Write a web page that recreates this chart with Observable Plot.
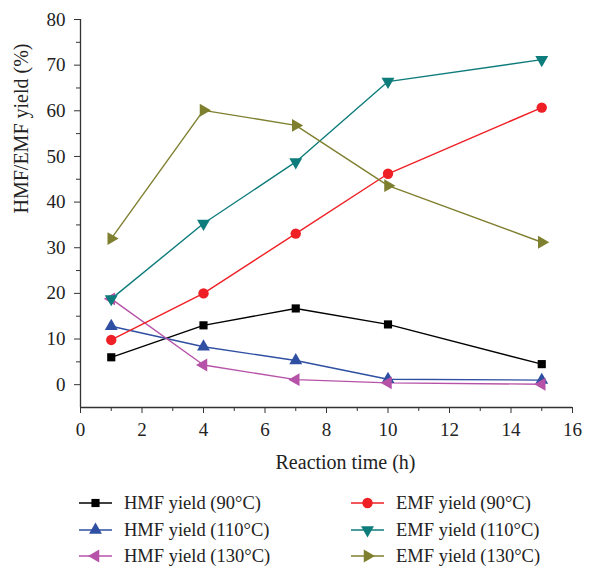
<!DOCTYPE html>
<html>
<head>
<meta charset="utf-8">
<script src="https://cdn.jsdelivr.net/npm/d3@7"></script>
<script src="https://cdn.jsdelivr.net/npm/@observablehq/plot@0.6"></script>
<style>
  html, body { margin: 0; padding: 0; background: #fff; overflow: hidden; }
  #chart { width: 614px; font-family: 'Liberation Serif', 'DejaVu Serif', serif; }
  #legend { position: relative; width: 614px; height: 87px; font-family: 'Liberation Serif', serif; font-size: 18.5px; line-height: 1; color: #222; }
  .item { position: absolute; display: flex; align-items: center; height: 22px; }
  .item svg { margin-right: 12px; }
</style>
</head>
<body>
<div id="chart"></div>
<div id="legend"></div>
<script>
// ---- data ----
const times = [1, 4, 7, 10, 15];
const seriesNames = [
  "HMF yield (90°C)", "HMF yield (110°C)", "HMF yield (130°C)",
  "EMF yield (90°C)", "EMF yield (110°C)", "EMF yield (130°C)"
];
const hmf90  = [6.0, 13.0, 16.7, 13.2, 4.5];
const hmf110 = [12.8, 8.3, 5.3, 1.2, 1.0];
const hmf130 = [18.8, 4.3, 1.1, 0.4, 0.1];
const emf90  = [9.8, 20.0, 33.1, 46.2, 60.7];
const emf110 = [18.8, 35.3, 48.8, 66.4, 71.2];
const emf130 = [32.0, 60.1, 56.8, 43.6, 31.2];
const seriesValues = [hmf90, hmf110, hmf130, emf90, emf110, emf130];
const seriesColors = ["#000000", "#2f4fa2", "#b653a8", "#ee2025", "#0e7c7b", "#7f7f30"];
const xTicks = [0, 2, 4, 6, 8, 10, 12, 14, 16];
const yTicks = [0, 10, 20, 30, 40, 50, 60, 70, 80];
const xLabel = "Reaction time (h)";
const yLabel = "HMF/EMF yield (%)";

// ---- custom triangle symbols ----
const S3 = Math.sqrt(3);
function tri(pts) {
  return { draw(ctx, size) {
    const h = Math.sqrt(size / (3 * S3));
    const p = pts(h);
    ctx.moveTo(p[0][0], p[0][1]);
    ctx.lineTo(p[1][0], p[1][1]);
    ctx.lineTo(p[2][0], p[2][1]);
    ctx.closePath();
  }};
}
const triUp    = tri(h => [[0, -2*h], [-S3*h, h], [S3*h, h]]);
const triDown  = tri(h => [[0, 2*h], [-S3*h, -h], [S3*h, -h]]);
const triLeft  = tri(h => [[-2*h, 0], [h, -S3*h], [h, S3*h]]);
const triRight = tri(h => [[2*h, 0], [-h, -S3*h], [-h, S3*h]]);
const seriesSymbols = ["square", triUp, triLeft, "circle", triDown, triRight];
const seriesR = [4.6, 4.8, 4.8, 5.2, 4.8, 4.8];

const rows = [];
seriesValues.forEach((vals, i) => vals.forEach((v, j) => rows.push({series: i, t: times[j], y: v})));

const marks = [
  Plot.ruleX([0], {y1: -5, y2: 80, stroke: "#333", strokeWidth: 1.3}),
  Plot.ruleY([-5], {x1: 0, x2: 16, stroke: "#333", strokeWidth: 1.3}),
  Plot.axisX({ticks: xTicks, tickSize: 6, tickPadding: 9, fontSize: 19, stroke: "#333", color: "#222", label: null}),
  Plot.axisX({ticks: d3.range(1, 16, 2), tickSize: 4, text: null, label: null, stroke: "#333"}),
  Plot.axisY({ticks: yTicks, tickSize: 6, tickPadding: 9, fontSize: 19, stroke: "#333", color: "#222", label: null}),
  Plot.axisY({ticks: d3.range(5, 80, 10), tickSize: 4, text: null, label: null, stroke: "#333"}),
  Plot.text([xLabel], {frameAnchor: "bottom", dy: 61, dx: 19, fontSize: 20, fill: "#222"}),
  Plot.text([yLabel], {frameAnchor: "left", dx: -59, rotate: -90, fontSize: 20, fill: "#222"})
];
seriesValues.forEach((vals, i) => {
  const d = rows.filter(r => r.series === i);
  marks.push(Plot.line(d, {x: "t", y: "y", stroke: seriesColors[i], strokeWidth: 1.4}));
});
seriesValues.forEach((vals, i) => {
  const d = rows.filter(r => r.series === i);
  marks.push(Plot.dot(d, {x: "t", y: "y", fill: seriesColors[i], stroke: "none", symbol: seriesSymbols[i], r: seriesR[i]}));
});

const chart = Plot.plot({
  width: 614,
  height: 480,
  marginLeft: 80,
  marginRight: 42,
  marginTop: 19,
  marginBottom: 73,
  style: {fontFamily: "'Liberation Serif', serif", fontSize: "19px", color: "#222", background: "#fff", overflow: "visible"},
  x: {domain: [0, 16]},
  y: {domain: [-5, 80]},
  marks
});
document.getElementById("chart").append(chart);

// ---- legend ----
const legend = d3.select("#legend");
const pos = [[79, 23], [79, 50], [79, 76], [351, 23], [351, 50], [351, 76]];
seriesNames.forEach((name, i) => {
  const item = legend.append("div").attr("class", "item")
    .style("left", pos[i][0] + "px").style("top", (pos[i][1] - 11) + "px");
  const svg = item.append("svg").attr("width", 33).attr("height", 16);
  svg.append("line").attr("x1", 0).attr("x2", 33).attr("y1", 8).attr("y2", 8)
    .attr("stroke", seriesColors[i]).attr("stroke-width", 1.4);
  const sym = typeof seriesSymbols[i] === "string"
    ? (seriesSymbols[i] === "square" ? d3.symbolSquare : d3.symbolCircle) : seriesSymbols[i];
  svg.append("path").attr("transform", "translate(16.5,8)")
    .attr("d", d3.symbol(sym, Math.PI * seriesR[i] * seriesR[i])())
    .attr("fill", seriesColors[i]);
  item.append("span").text(name);
});
</script>
</body>
</html>
